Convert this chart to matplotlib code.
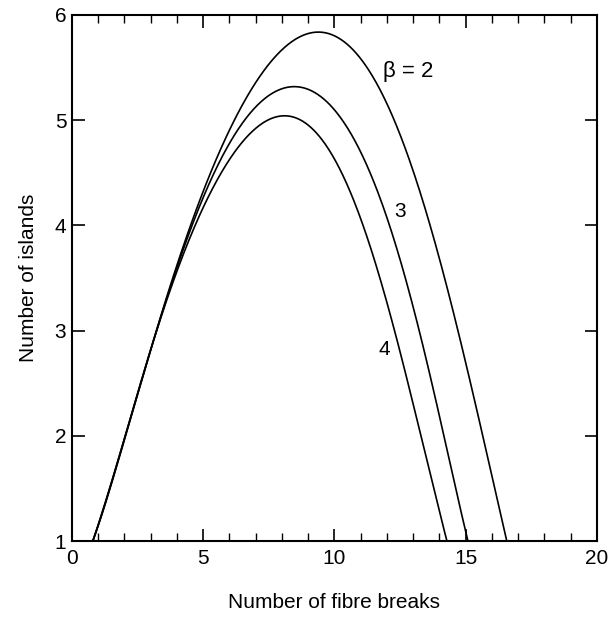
import numpy as np
import matplotlib
matplotlib.use("Agg")
import matplotlib.pyplot as plt
from matplotlib.ticker import MultipleLocator

plt.rcParams['font.family'] = ['Liberation Sans', 'DejaVu Sans']

# Read points (x = number of fibre breaks, y = number of islands)
beta2_x = [0.8, 2.0, 3.0, 4.0, 4.95, 5.83, 6.86, 8.04, 9.37, 10.6, 11.47, 12.69, 13.8, 14.9, 15.7, 16.57]
beta2_y = [1.0, 1.98, 2.80, 3.58, 4.34, 4.81, 5.29, 5.68, 5.81, 5.70, 5.45, 4.72, 3.85, 2.82, 1.95, 1.0]

beta3_x = [0.8, 2.0, 3.0, 4.0, 5.07, 6.10, 7.0, 7.85, 8.42, 9.5, 10.9, 12.0, 13.18, 14.2, 15.09]
beta3_y = [1.0, 1.98, 2.80, 3.58, 4.34, 4.81, 5.10, 5.29, 5.33, 5.22, 4.72, 4.13, 3.0, 2.0, 1.0]

beta4_x = [0.8, 2.0, 3.0, 4.0, 5.33, 6.59, 7.3, 8.04, 9.2, 10.2, 10.59, 11.4, 12.3, 13.3, 14.29]
beta4_y = [1.0, 1.98, 2.80, 3.57, 4.34, 4.81, 4.98, 5.04, 4.90, 4.55, 4.34, 3.75, 3.0, 2.0, 1.0]

curve_labels = ["\u03b2 = 2", "3", "4"]
x_ticks = [0, 5, 10, 15, 20]
y_ticks = [1, 2, 3, 4, 5, 6]


def smooth(xs, ys, deg=7):
    """Least-squares smoothing of the read points (drawing only)."""
    xs = np.asarray(xs, float)
    ys = np.asarray(ys, float)
    w = np.ones_like(xs)
    w[0] = w[-1] = 10.0
    c = np.polyfit(xs, ys, deg, w=w)
    gx = np.linspace(xs[0], xs[-1], 400)
    return gx, np.polyval(c, gx)


fig = plt.figure(figsize=(6.14, 6.19), dpi=100)
ax = fig.add_axes([0.117, 0.126, 0.855, 0.850])

for xs, ys in [(beta2_x, beta2_y), (beta3_x, beta3_y), (beta4_x, beta4_y)]:
    sx, sy = smooth(xs, ys)
    ax.plot(sx, sy, color='black', lw=1.2)

ax.text(11.85, 5.46, curve_labels[0], fontsize=16, va='center', ha='left')
ax.text(12.5, 4.13, curve_labels[1], fontsize=15, va='center', ha='center')
ax.text(11.9, 2.82, curve_labels[2], fontsize=15, va='center', ha='center')

ax.set_xlim(0, 20)
ax.set_ylim(1, 6)
ax.set_xticks(x_ticks)
ax.set_yticks(y_ticks)
ax.xaxis.set_minor_locator(MultipleLocator(1))
ax.tick_params(axis='both', which='major', direction='in', length=9, width=1.2,
               top=True, right=True, labelsize=15)
ax.tick_params(axis='x', which='minor', direction='in', length=6, width=1.0, top=True)
ax.tick_params(axis='x', which='major', pad=6)
ax.tick_params(axis='y', which='major', pad=4)
for s in ax.spines.values():
    s.set_linewidth(1.5)

ax.set_xlabel("Number of fibre breaks", fontsize=15, labelpad=18)
ax.set_ylabel("Number of islands", fontsize=15, labelpad=12)

fig.savefig("out.png", dpi=100)
